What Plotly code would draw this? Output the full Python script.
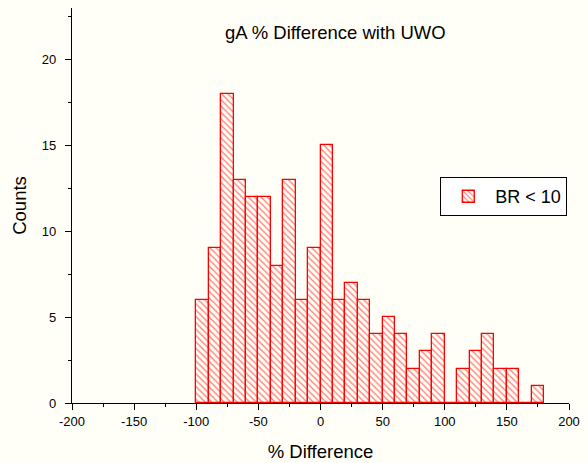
import plotly.graph_objects as go

bin_centers = [-95, -85, -75, -65, -55, -45, -35, -25, -15, -5,
               5, 15, 25, 35, 45, 55, 65, 75, 85, 95,
               105, 115, 125, 135, 145, 155, 165, 175]
counts = [6, 9, 18, 13, 12, 12, 8, 13, 6, 9,
          15, 6, 7, 6, 4, 5, 4, 2, 3, 4,
          0, 2, 3, 4, 2, 2, 0, 1]
bin_width = 10

x_ticks = [-200, -150, -100, -50, 0, 50, 100, 150, 200]
x_tick_labels = ["-200", "-150", "-100", "-50", "0", "50", "100", "150", "200"]
y_ticks = [0, 5, 10, 15, 20]
y_tick_labels = ["0", "5", "10", "15", "20"]

BG = "#fffff7"
FONT = "Liberation Sans, Arial, sans-serif"

fig = go.Figure()
fig.add_trace(go.Bar(
    x=bin_centers, y=counts, width=bin_width,
    name="BR < 10",
    marker=dict(
        color=BG,
        line=dict(color="#ff0000", width=1.3),
        pattern=dict(shape="\\", fgcolor="#ff0000", bgcolor=BG, size=4.5, solidity=0.3, fillmode="overlay"),
    ),
))

fig.update_layout(
    width=588, height=463,
    margin=dict(l=72, r=19, t=8, b=60),
    paper_bgcolor=BG, plot_bgcolor=BG,
    font=dict(family=FONT, size=13, color="#000000"),
    showlegend=True,
    legend=dict(x=0.741, y=0.572, xanchor="left", yanchor="top",
                bgcolor="#ffffff", bordercolor="#000000", borderwidth=1,
                font=dict(size=18), itemwidth=44),
    bargap=0,
)
fig.add_annotation(text="gA % Difference with UWO", x=0.531, y=0.937, xref="paper", yref="paper",
                   showarrow=False, font=dict(size=18.5, family=FONT), xanchor="center", yanchor="middle")

fig.update_xaxes(range=[-200, 200], tickvals=x_ticks, ticktext=x_tick_labels,
                 showline=True, linecolor="#000000", linewidth=1.2,
                 ticks="outside", ticklen=6, tickcolor="#000000",
                 minor=dict(ticks="outside", ticklen=3, dtick=25, tick0=0, tickcolor="#000000"),
                 showgrid=False, zeroline=False, automargin=False,
                 title=dict(text="% Difference", font=dict(size=18.5), standoff=17),
                 tickfont=dict(size=13))
fig.update_yaxes(range=[0, 23], tickvals=y_ticks, ticktext=y_tick_labels,
                 showline=True, linecolor="#000000", linewidth=1.2,
                 ticks="outside", ticklen=6, tickcolor="#000000",
                 minor=dict(ticks="outside", ticklen=3, dtick=2.5, tick0=0, tickcolor="#000000"),
                 showgrid=False, zeroline=False, automargin=False,
                 ticklabelstandoff=6,
                 title=dict(text="Counts", font=dict(size=18.5), standoff=10),
                 tickfont=dict(size=13))

fig.write_html("out.html")
